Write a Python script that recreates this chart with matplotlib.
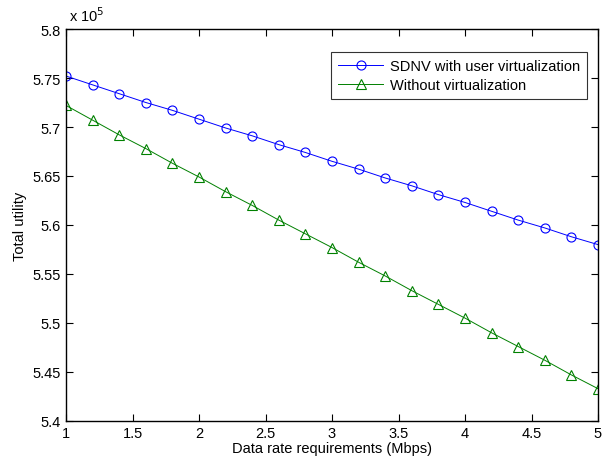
import numpy as np
import matplotlib
matplotlib.use('Agg')
import matplotlib.pyplot as plt
from matplotlib.ticker import FuncFormatter

plt.rcParams['font.family'] = ['Liberation Sans', 'DejaVu Sans']

# data rate requirement (Mbps)
rates = [1.0, 1.2, 1.4, 1.6, 1.8, 2.0, 2.2, 2.4, 2.6, 2.8, 3.0,
         3.2, 3.4, 3.6, 3.8, 4.0, 4.2, 4.4, 4.6, 4.8, 5.0]

# total utility, in units of 1e5
sdnv_util = [5.752, 5.743, 5.734, 5.725, 5.717, 5.708, 5.699, 5.691, 5.682, 5.674, 5.665,
             5.657, 5.648, 5.640, 5.631, 5.623, 5.614, 5.605, 5.597, 5.588, 5.580]
novirt_util = [5.722, 5.707, 5.692, 5.678, 5.663, 5.649, 5.634, 5.620, 5.605, 5.591, 5.577,
               5.562, 5.548, 5.533, 5.519, 5.505, 5.490, 5.476, 5.462, 5.447, 5.433]

SCALE = 1e5

fig = plt.figure(figsize=(6.02, 4.64), dpi=100)
ax = fig.add_axes([66 / 602, 42 / 464, 532 / 602, 392 / 464])

ax.plot(rates, np.array(sdnv_util) * SCALE, color='#0000ff', lw=0.7, marker='o',
        ms=6.5, mfc='none', mec='#0000ff', mew=0.8, label='SDNV with user virtualization')
ax.plot(rates, np.array(novirt_util) * SCALE, color='#008000', lw=0.7, marker='^',
        ms=7, mfc='none', mec='#008000', mew=0.8, label='Without virtualization')

ax.set_xlim(1, 5)
ax.set_ylim(5.4 * SCALE, 5.8 * SCALE)
ax.set_xticks(np.arange(1, 5.01, 0.5))
ax.set_yticks(np.arange(5.4, 5.801, 0.05) * SCALE)
ax.xaxis.set_major_formatter(FuncFormatter(lambda v, p: '%g' % v))
ax.yaxis.set_major_formatter(FuncFormatter(lambda v, p: '%g' % round(v / SCALE, 3)))
ax.tick_params(direction='in', top=True, right=True, labelsize=10.5, length=5, width=0.8)
for s in ax.spines.values():
    s.set_linewidth(1.0)

ax.text(0.005, 1.012, r'x 10$^{5}$', transform=ax.transAxes, fontsize=10.5, ha='left', va='bottom')

ax.set_xlabel('Data rate requirements (Mbps)', fontsize=10.5, labelpad=1)
ax.set_ylabel('Total utility', fontsize=10.5, labelpad=4)

leg = ax.legend(loc='upper right', bbox_to_anchor=(0.9796, 0.9412), fontsize=10.5,
                frameon=True, fancybox=False, edgecolor='black', handlelength=3.1,
                borderpad=0.45, labelspacing=0.4, handletextpad=0.5, borderaxespad=0)
leg.get_frame().set_linewidth(0.8)

plt.savefig('out.png', dpi=100)
